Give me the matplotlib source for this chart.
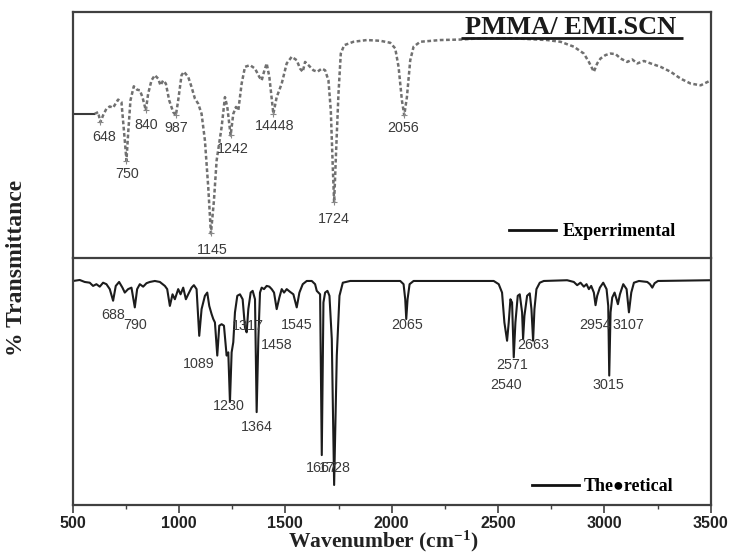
import matplotlib
matplotlib.use("Agg")
import matplotlib.pyplot as plt
from matplotlib.lines import Line2D

plt.rcParams["mathtext.fontset"] = "custom"
plt.rcParams["mathtext.rm"] = "Liberation Serif:bold"
plt.rcParams["mathtext.bf"] = "Liberation Serif:bold"
plt.rcParams["mathtext.it"] = "Liberation Serif:bold"
plt.rcParams["mathtext.default"] = "rm"

# ---------------- data ----------------
# Experimental spectrum (top panel)
exp_flat_wn = [500, 604]
exp_flat_T = [58.6, 58.6]

exp_wn = [603.6, 619.3, 630.3, 642.9, 658.6, 674.3, 690.0, 713.5, 729.2, 744.9,
          752.8, 760.6, 771.6, 787.3, 803.0, 815.6, 828.1, 843.9, 854.8, 870.5,
          886.2, 901.9, 912.9, 925.5, 938.0, 953.7, 972.6, 985.1, 996.1, 1011.8,
          1022.8, 1043.2, 1058.9, 1074.6, 1090.3, 1106.0, 1121.7, 1137.4, 1150.0, 1164.1,
          1176.7, 1200.2, 1215.9, 1226.9, 1242.6, 1255.1, 1267.7, 1278.7, 1294.4, 1310.1,
          1333.6, 1357.2, 1377.6, 1388.6, 1399.6, 1412.1, 1424.7, 1443.5, 1459.2, 1482.8,
          1506.3, 1529.9, 1553.4, 1569.1, 1581.7, 1592.7, 1608.4, 1631.9, 1650.7, 1671.2,
          1686.9, 1702.6, 1713.6, 1723.0, 1729.3, 1738.7, 1749.7, 1760.6, 1776.4, 1820.3,
          1883.1, 1945.9, 1993.0, 2016.6, 2032.3, 2048.0, 2059.0, 2071.5, 2087.2, 2102.9,
          2134.3, 2228.5, 2322.7, 2416.9, 2573.9, 2730.9, 2793.6, 2856.4, 2903.5, 2927.1,
          2950.6, 2966.3, 2982.0, 3005.6, 3029.1, 3052.7, 3076.2, 3107.6, 3131.2, 3154.8,
          3186.1, 3217.5, 3264.6, 3311.7, 3358.8, 3405.9, 3453.0, 3500.0]
exp_T = [58.6, 59.3, 55.2, 58.0, 60.7, 61.6, 61.1, 64.4, 63.4, 47.8,
         39.6, 50.5, 64.1, 69.8, 68.4, 68.2, 65.4, 60.0, 66.8, 72.2,
         74.3, 72.9, 70.2, 72.2, 70.9, 64.1, 59.3, 58.0, 64.1, 74.3,
         75.7, 73.6, 69.5, 64.8, 62.7, 58.6, 47.8, 28.7, 10.0, 23.3,
         39.6, 53.2, 65.4, 61.4, 49.8, 58.6, 61.4, 60.0, 70.9, 77.7,
         78.4, 77.0, 73.6, 72.2, 75.7, 79.1, 73.6, 58.6, 65.4, 70.9,
         79.1, 81.8, 80.4, 77.0, 75.7, 79.7, 78.4, 76.3, 75.7, 77.0,
         76.3, 72.2, 60.0, 36.9, 22.6, 43.7, 66.8, 83.1, 86.5, 87.9,
         88.6, 88.3, 87.5, 85.2, 77.7, 64.1, 58.0, 65.4, 80.4, 85.9,
         87.9, 88.6, 88.8, 89.3, 89.3, 88.6, 87.9, 85.9, 83.1, 79.7,
         75.7, 79.1, 81.1, 82.5, 83.1, 82.9, 81.1, 79.7, 80.7, 79.1,
         80.1, 79.1, 77.7, 75.7, 72.9, 70.9, 70.2, 72.2]

# Theoretical spectrum (bottom panel)
theo_wn = [501.6, 533.0, 556.5, 580.1, 595.8, 611.5, 627.2, 642.9, 658.6, 674.3,
           690.0, 702.5, 718.2, 733.9, 744.9, 760.6, 776.3, 792.0, 803.0, 815.6,
           831.3, 847.0, 862.7, 886.2, 909.8, 933.3, 944.3, 956.9, 969.4, 980.4,
           996.1, 1007.1, 1019.7, 1032.2, 1043.2, 1058.9, 1069.9, 1082.5, 1095.0, 1106.0,
           1121.7, 1132.7, 1142.1, 1153.1, 1161.0, 1168.8, 1179.8, 1189.2, 1200.2, 1211.2,
           1223.8, 1231.6, 1239.4, 1247.3, 1255.1, 1263.0, 1274.0, 1286.5, 1299.1, 1310.1,
           1318.0, 1325.8, 1336.8, 1346.2, 1357.2, 1365.0, 1372.9, 1380.7, 1388.6, 1399.6,
           1412.1, 1424.7, 1435.7, 1446.7, 1459.2, 1471.8, 1482.8, 1493.8, 1506.3, 1522.0,
           1537.7, 1553.4, 1566.0, 1581.7, 1600.5, 1624.1, 1639.8, 1647.6, 1663.3, 1671.2,
           1679.0, 1686.9, 1697.9, 1707.3, 1718.3, 1729.3, 1741.8, 1754.4, 1770.1, 1804.6,
           1945.9, 2040.1, 2055.8, 2063.6, 2068.4, 2074.6, 2084.1, 2102.9, 2479.7, 2503.2,
           2518.9, 2529.9, 2542.5, 2550.3, 2558.2, 2566.0, 2573.9, 2581.7, 2592.7, 2602.1,
           2613.1, 2617.8, 2624.1, 2636.7, 2649.2, 2657.1, 2664.9, 2671.2, 2680.6, 2696.3,
           2715.2, 2825.0, 2856.4, 2872.1, 2887.8, 2903.5, 2916.1, 2927.1, 2938.1, 2950.6,
           2958.5, 2966.3, 2978.9, 2994.6, 3010.3, 3018.2, 3022.9, 3029.1, 3037.0, 3048.0,
           3057.4, 3063.7, 3073.1, 3088.8, 3104.5, 3115.5, 3126.5, 3139.0, 3162.6, 3201.8,
           3214.4, 3225.4, 3236.4, 3252.1, 3500.0]
theo_T = [90.7, 91.1, 90.3, 90.0, 88.7, 89.4, 88.4, 90.0, 89.4, 87.4,
          82.7, 88.7, 90.3, 88.0, 86.0, 87.4, 88.0, 80.0, 87.4, 89.4,
          88.4, 89.8, 90.3, 90.7, 90.3, 88.7, 87.4, 80.6, 85.3, 83.3,
          87.4, 85.3, 88.0, 83.3, 85.3, 88.0, 89.0, 87.4, 68.5, 79.3,
          84.7, 86.0, 80.6, 77.3, 75.3, 73.9, 60.5, 72.6, 73.2, 72.6,
          60.5, 61.8, 41.7, 61.8, 65.9, 78.0, 84.7, 85.3, 83.3, 71.9,
          69.9, 79.3, 86.0, 86.7, 83.3, 37.6, 67.2, 86.0, 88.0, 87.4,
          88.7, 88.4, 87.4, 86.0, 79.3, 84.0, 87.4, 86.0, 87.4, 86.3,
          85.3, 80.0, 86.0, 89.4, 90.7, 90.7, 89.4, 86.7, 85.3, 20.2,
          82.0, 86.0, 86.7, 84.7, 67.2, 8.1, 60.5, 84.7, 90.0, 90.7,
          90.7, 90.7, 89.4, 83.3, 75.3, 83.3, 89.4, 90.7, 90.7, 89.4,
          86.0, 73.9, 66.5, 73.9, 83.3, 82.0, 59.8, 73.9, 84.7, 85.3,
          78.0, 67.2, 76.6, 84.7, 85.7, 79.3, 66.5, 79.3, 87.4, 90.0,
          90.7, 91.0, 90.3, 89.0, 90.0, 88.4, 89.4, 87.4, 88.7, 86.0,
          80.9, 84.7, 88.0, 90.0, 87.4, 80.6, 52.4, 78.0, 84.0, 86.0,
          83.3, 81.3, 85.3, 89.4, 87.4, 78.0, 86.0, 90.0, 90.7, 90.3,
          89.4, 88.0, 89.8, 90.7, 91.0]

# Peak annotations: (label, x, y)
exp_labels = ["648", "750", "840", "987", "1242", "14448", "1145", "1724", "2056"]
exp_label_x = [646, 754, 844, 985, 1254, 1451, 1155, 1729, 2054]
exp_label_y = [49.0, 34.3, 53.9, 52.7, 44.5, 53.5, 3.3, 15.9, 52.7]
exp_mark_x = [630.3, 752.8, 843.9, 985.1, 1242.6, 1443.5, 1150.0, 1729.3, 2059.0]
exp_mark_y = [55.2, 39.6, 60.0, 58.0, 49.8, 58.6, 10.0, 22.6, 58.0]

theo_labels = ["688", "790", "1089", "1230", "1364", "1317", "1458", "1545",
               "1667", "1728", "2065", "2663", "2571", "2540", "2954", "3107", "3015"]
theo_label_x = [688, 792, 1093, 1235, 1367, 1324, 1461, 1555,
                1673, 1734, 2073, 2667, 2568, 2539, 2958, 3114, 3020]
theo_label_y = [77.0, 73.0, 56.9, 39.9, 31.5, 72.6, 64.9, 73.0,
                14.9, 14.9, 73.0, 64.9, 56.5, 48.4, 73.0, 73.0, 48.4]

x_ticks = [500, 1000, 1500, 2000, 2500, 3000, 3500]
title_text = "PMMA/ EMI.SCN"
legend_top = "Experrimental"
legend_bottom = "The\u25cfretical"
x_label = "Wavenumber (cm$^{-1}$)"
y_label = "% Transmittance"

# ---------------- figure ----------------
fig = plt.figure(figsize=(7.31, 5.53), dpi=100)
L, R = 72.7 / 731, 710.7 / 731
ax1 = fig.add_axes([L, 1 - 258 / 553, R - L, 246 / 553])
ax2 = fig.add_axes([L, 1 - 505 / 553, R - L, 247 / 553])

spine_c = "#404040"
for ax in (ax1, ax2):
    ax.set_xlim(500, 3500)
    ax.set_ylim(0, 100)
    ax.set_yticks([])
    for s in ax.spines.values():
        s.set_color(spine_c)
        s.set_linewidth(1.6)
ax1.spines["bottom"].set_visible(False)
ax1.set_xticks([])

# top spectrum
ax1.plot(exp_flat_wn, exp_flat_T, color="#3a3a3a", lw=1.5, solid_capstyle="butt")
ax1.plot(exp_wn, exp_T, color="#707070", lw=1.8, linestyle=(0, (1.5, 1.0)))
ax1.plot(exp_mark_x, exp_mark_y, linestyle="none", marker="+", ms=5,
         mew=0.8, color="#888888")

lab_font = dict(family=["Liberation Sans", "DejaVu Sans"], fontsize=10.3,
                color="#3a3a3a", ha="center", va="center")
for t, x, y in zip(exp_labels, exp_label_x, exp_label_y):
    ax1.text(x, y, t, **lab_font)

# bottom spectrum
ax2.plot(theo_wn, theo_T, color="#1c1c1c", lw=1.5)
for t, x, y in zip(theo_labels, theo_label_x, theo_label_y):
    ax2.text(x, y, t, **lab_font)

# x axis
ax2.set_xticks(x_ticks)
ax2.set_xticks(range(750, 3500, 500), minor=True)
ax2.tick_params(axis="x", which="major", direction="out", length=6, width=1.2,
                color=spine_c, pad=2)
ax2.tick_params(axis="x", which="minor", direction="out", length=3, width=1.0,
                color=spine_c)
for lbl in ax2.get_xticklabels():
    lbl.set_fontfamily(["Liberation Sans", "DejaVu Sans"])
    lbl.set_fontweight("bold")
    lbl.set_fontsize(11.5)
    lbl.set_color("#222222")

serif = ["Liberation Serif", "DejaVu Serif"]
fig.text(383 / 731, 1 - 541 / 553, x_label, ha="center", va="center",
         family=serif, fontweight="bold", fontsize=15.5, color="#222222")
fig.text(17 / 731, 1 - 268 / 553, y_label, ha="center", va="center",
         rotation=90, family=serif, fontweight="bold", fontsize=17, color="#222222")

# title with underline
ax1.text(0.781, 0.939, title_text, transform=ax1.transAxes, ha="center",
         va="center", family=serif, fontweight="bold", fontsize=19, color="#1a1a1a")
ax1.plot([0.608, 0.956], [0.894, 0.894], transform=ax1.transAxes,
         color="#1a1a1a", lw=2, solid_capstyle="butt")

# legends
leg1 = ax1.legend(handles=[Line2D([], [], color="#111111", lw=2)],
                  labels=[legend_top], loc="center left",
                  bbox_to_anchor=(0.684, 0.106), frameon=False, borderpad=0,
                  borderaxespad=0, handlelength=2.6, handletextpad=0.35,
                  prop=dict(family=serif, weight="bold", size=13))
leg2 = ax2.legend(handles=[Line2D([], [], color="#111111", lw=2)],
                  labels=[legend_bottom], loc="center left",
                  bbox_to_anchor=(0.720, 0.073), frameon=False, borderpad=0,
                  borderaxespad=0, handlelength=2.6, handletextpad=0.25,
                  prop=dict(family=["Liberation Serif", "DejaVu Sans"],
                            weight="bold", size=13))

fig.savefig("out.png", dpi=100)
